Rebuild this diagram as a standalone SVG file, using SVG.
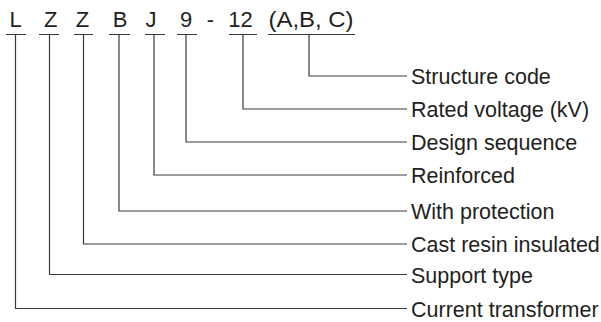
<svg xmlns="http://www.w3.org/2000/svg" width="601" height="322" viewBox="0 0 601 322">
<style>
.code{font-family:"Liberation Sans",Arial,sans-serif;font-size:22px;fill:#231f20;text-anchor:middle}
.lbl{font-family:"Liberation Sans",Arial,sans-serif;font-size:21.5px;fill:#231f20}
.ln{fill:none;stroke:#3a3a3a;stroke-width:1.2}
</style>
<rect width="601" height="322" fill="#fff"/>
<g id="code">
<text class="code" x="15.5" y="26.5">L</text>
<text class="code" x="50.7" y="26.5">Z</text>
<text class="code" x="82.5" y="26.5">Z</text>
<text class="code" x="120" y="26.5">B</text>
<text class="code" x="151" y="26.5">J</text>
<text class="code" x="186" y="26.5">9</text>
<text class="code" x="210.5" y="26.5">-</text>
<text class="code" x="240.5" y="26.5">12</text>
<text class="code" x="311" y="26.5" textLength="85" lengthAdjust="spacingAndGlyphs">(A,B, C)</text>
</g>
<g id="connectors">
<path class="ln" d="M6,34.5H26 M39,34.5H59 M74,34.5H93 M109,34.5H130 M145,34.5H165 M177,34.5H197 M229,34.5H257 M268,34.5H355"/>
<path class="ln" d="M309,34.5V76H407"/>
<path class="ln" d="M243,34.5V109H407"/>
<path class="ln" d="M186,34.5V142H407"/>
<path class="ln" d="M154,34.5V175H407"/>
<path class="ln" d="M119,34.5V211H407"/>
<path class="ln" d="M83.5,34.5V244H407"/>
<path class="ln" d="M49.5,34.5V274.5H407"/>
<path class="ln" d="M15.5,34.5V308.5H407"/>
</g>
<g id="n1"><text class="lbl" x="411" y="84">Structure code</text></g>
<g id="n2"><text class="lbl" x="411" y="117">Rated voltage (kV)</text></g>
<g id="n3"><text class="lbl" x="411" y="150">Design sequence</text></g>
<g id="n4"><text class="lbl" x="411" y="183">Reinforced</text></g>
<g id="n5"><text class="lbl" x="411" y="219">With protection</text></g>
<g id="n6"><text class="lbl" x="411" y="252">Cast resin insulated</text></g>
<g id="n7"><text class="lbl" x="411" y="282.5">Support type</text></g>
<g id="n8"><text class="lbl" x="411" y="316.5">Current transformer</text></g>
</svg>
